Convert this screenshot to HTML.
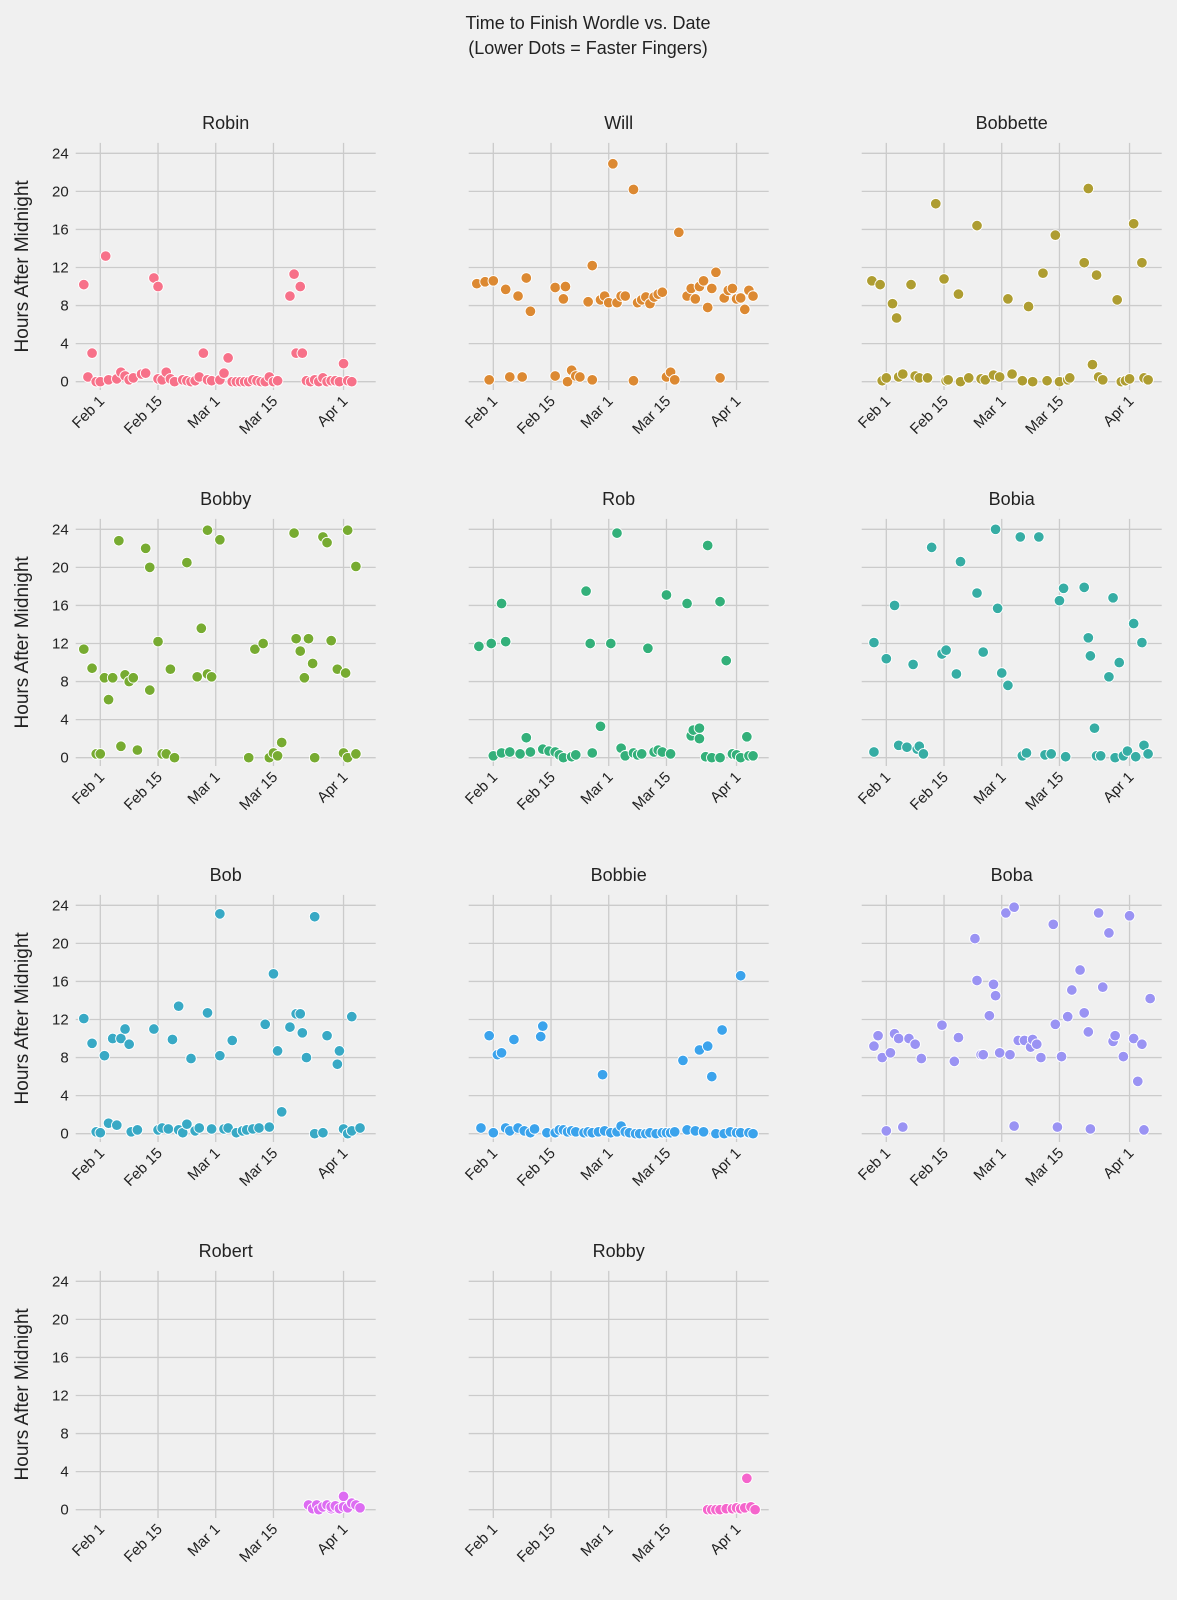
<!DOCTYPE html>
<html><head><meta charset="utf-8">
<style>
body{margin:0;background:#f0f0f0;}
svg{display:block;font-family:"Liberation Sans","DejaVu Sans",sans-serif;}
</style></head>
<body>
<svg id="chart" width="1177" height="1600" viewBox="0 0 1177 1600" xmlns="http://www.w3.org/2000/svg">
<rect width="1177" height="1600" fill="#f0f0f0"/>
<text x="588" y="29" text-anchor="middle" font-size="18" fill="#222">Time to Finish Wordle vs. Date</text>
<text x="588" y="54" text-anchor="middle" font-size="18" fill="#222">(Lower Dots = Faster Fingers)</text>
<g id="panels"></g>
</svg>
<script>
// data: [days after Feb 1, hours after midnight]
const players = ["Robin","Will","Bobbette","Bobby","Rob","Bobia","Bob","Bobbie","Boba","Robert","Robby"];
const colors = ["#f77189","#dc8932","#ae9d31","#77ab31","#33b07a","#36ada4","#38a9c5","#3ba3ec","#9a93f3","#dd6cf2","#f565cc"];
const xTickLabels = ["Feb 1","Feb 15","Mar 1","Mar 15","Apr 1"];
const xTickDays = [0,14,28,42,59];
const yTicks = [0,4,8,12,16,20,24];
const robin = [[-4,10.2],[-3,0.5],[-2,3],[-1,0],[0,0],[1.3,13.2],[2,0.2],[4,0.3],[5,1],[6,0.6],[7,0.2],[8,0.4],[10,0.8],[11,0.9],[13,10.9],[14,10],[14,0.3],[15,0.2],[16,1],[17,0.3],[18,0],[20,0.2],[21,0.1],[22,0],[23,0.1],[24,0.5],[25,3],[26,0.2],[27,0.1],[29,0.2],[30,0.9],[31,2.5],[32,0],[33,0],[34,0],[35,0],[36,0],[37,0.2],[38,0.1],[39,0],[40,0],[41,0.5],[42,0],[43,0.1],[46,9],[47,11.3],[47.5,3],[48.5,10],[49,3],[50,0.1],[51,0],[52,0.2],[53,0],[54,0.4],[55,0],[56,0.1],[57,0.1],[58,0],[59,1.9],[60,0.1],[61,0]];
const will = [[-4,10.3],[-2,10.5],[-1,0.2],[0,10.6],[3,9.7],[4,0.5],[6,9],[7,0.5],[8,10.9],[9,7.4],[15,9.9],[15,0.6],[17,8.7],[17.5,10],[18,0],[19,1.2],[20,0.6],[21,0.5],[23,8.4],[24,12.2],[24,0.2],[26,8.6],[27,9],[28,8.3],[29,22.9],[30,8.3],[31,9],[32,9],[34,20.2],[34,0.1],[35,8.3],[36,8.6],[37,8.9],[38,8.2],[39,8.9],[40,9.2],[41,9.4],[42,0.5],[43,1],[44,0.2],[45,15.7],[47,9],[48,9.8],[49,8.7],[50,10],[51,10.6],[52,7.8],[53,9.8],[54,11.5],[55,0.4],[56,8.8],[57,9.6],[58,9.8],[59,8.7],[60,8.8],[61,7.6],[62,9.6],[63,9]];
const bobbette = [[-3.5,10.6],[-1.5,10.2],[-1,0.1],[0,0.4],[1.5,8.2],[2.5,6.7],[3,0.5],[4,0.8],[6,10.2],[7,0.6],[8,0.4],[10,0.4],[12,18.7],[14,10.8],[14.5,0.1],[15,0.2],[17.5,9.2],[18,0],[20,0.4],[22,16.4],[23,0.3],[24,0.2],[26,0.7],[27.5,0.5],[29.5,8.7],[30.5,0.8],[33,0.1],[34.5,7.9],[35.5,0],[38,11.4],[39,0.1],[41,15.4],[42,0],[44,0.2],[44.5,0.4],[48,12.5],[49,20.3],[50,1.8],[51,11.2],[51.5,0.5],[52.5,0.2],[56,8.6],[57,0],[58,0.1],[59,0.3],[60,16.6],[62,12.5],[62.5,0.4],[63.5,0.2]];
const bobby = [[-4,11.4],[-2,9.4],[-1,0.4],[0,0.4],[1,8.4],[2,6.1],[3,8.4],[4.5,22.8],[5,1.2],[6,8.7],[7,8],[8,8.4],[9,0.8],[11,22],[12,20],[12,7.1],[14,12.2],[15,0.4],[16,0.4],[17,9.3],[18,0],[21,20.5],[23.5,8.5],[24.5,13.6],[26,23.9],[26,8.8],[27,8.5],[29,22.9],[36,0],[37.5,11.4],[39.5,12],[41,0],[42,0.5],[43,0.2],[44,1.6],[47,23.6],[47.5,12.5],[48.5,11.2],[49.5,8.4],[50.5,12.5],[51.5,9.9],[52,0],[54,23.2],[55,22.6],[56,12.3],[57.5,9.3],[59,0.5],[59.5,8.9],[60,0],[60,23.9],[62,20.1],[62,0.4]];
const rob = [[-3.5,11.7],[-0.5,12],[0,0.2],[2,16.2],[2,0.5],[3,12.2],[4,0.6],[6.5,0.4],[8,2.1],[9,0.6],[12,0.9],[13.5,0.7],[15,0.6],[16,0.3],[17,0],[19,0.1],[20,0.3],[22.5,17.5],[23.5,12],[24,0.5],[26,3.3],[28.5,12],[30,23.6],[31,1],[32,0.2],[34,0.5],[35,0.3],[36,0.4],[37.5,11.5],[39,0.6],[40,0.8],[41,0.6],[42,17.1],[43,0.4],[47,16.2],[48,2.3],[48.5,2.9],[50,3.1],[50,2],[51.5,0.1],[52,22.3],[53,0],[55,16.4],[55,0],[56.5,10.2],[58,0.4],[59,0.3],[60,0],[61.5,2.2],[62,0.2],[63,0.2]];
const bobia = [[-3,12.1],[-3,0.6],[0,10.4],[2,16],[3,1.3],[5,1.1],[6.5,9.8],[7.5,0.9],[8,1.2],[9,0.4],[11,22.1],[13.5,10.9],[14.5,11.3],[17,8.8],[18,20.6],[22,17.3],[23.5,11.1],[26.5,24],[27,15.7],[28,8.9],[29.5,7.6],[32.5,23.2],[33,0.2],[34,0.5],[37,23.2],[38.5,0.3],[40,0.4],[42,16.5],[43,17.8],[43.5,0.1],[48,17.9],[49,12.6],[49.5,10.7],[50.5,3.1],[51,0.2],[52,0.2],[54,8.5],[55,16.8],[55.5,0],[56.5,10],[57.5,0.2],[58.5,0.7],[60,14.1],[60.5,0.1],[62,12.1],[62.5,1.3],[63.5,0.4]];
const bob = [[-4,12.1],[-2,9.5],[-1,0.2],[0,0.1],[1,8.2],[2,1.1],[3,10],[4,0.9],[5,10],[6,11],[7,9.4],[7.5,0.2],[9,0.4],[13,11],[14,0.4],[15,0.6],[16.5,0.5],[17.5,9.9],[19,0.4],[19,13.4],[20,0.1],[21,1],[22,7.9],[23,0.3],[24,0.6],[26,12.7],[27,0.5],[29,23.1],[29,8.2],[30,0.5],[31,0.6],[32,9.8],[33,0.1],[34.5,0.3],[35.5,0.4],[37,0.5],[38.5,0.6],[40,11.5],[41,0.7],[42,16.8],[43,8.7],[44,2.3],[46,11.2],[47.5,12.6],[48.5,12.6],[49,10.6],[50,8],[52,22.8],[52,0],[54,0.1],[55,10.3],[57.5,7.3],[58,8.7],[59,0.5],[60,0],[61,0.3],[61,12.3],[63,0.6]];
const bobbie = [[-3,0.6],[-1,10.3],[0,0.1],[1,8.3],[2,8.5],[3,0.6],[4,0.3],[5,9.9],[6,0.6],[7.5,0.3],[9,0.1],[10,0.5],[11.5,10.2],[12,11.3],[13,0.1],[15,0.1],[16,0.4],[17,0.4],[18,0.2],[19,0.3],[20,0.2],[22,0.1],[23,0.2],[24,0.1],[25.5,0.2],[26.5,6.2],[27,0.3],[28.5,0.1],[30,0.2],[31,0.8],[32,0.2],[33,0.1],[34.5,0],[35.5,0],[37,0],[38,0.1],[39.5,0],[41,0.1],[42,0.1],[43,0.1],[44,0.2],[46,7.7],[47,0.4],[49,0.3],[50,8.8],[51,0.2],[52,9.2],[53,6],[54,0],[55.5,10.9],[56,0],[57.5,0.2],[59,0.1],[60,16.6],[60,0.1],[62,0.1],[63,0]];
const boba = [[-3,9.2],[-2,10.3],[-1,8],[0,0.3],[1,8.5],[2,10.5],[3,10],[4,0.7],[5.5,10],[7,9.4],[8.5,7.9],[13.5,11.4],[16.5,7.6],[17.5,10.1],[21.5,20.5],[22,16.1],[23,8.3],[23.5,8.3],[25,12.4],[26,15.7],[26.5,14.5],[27.5,8.5],[29,23.2],[30,8.3],[31,23.8],[31,0.8],[32,9.8],[33.5,9.8],[35,9.1],[35.5,9.9],[36.5,9.4],[37.5,8],[40.5,22],[41,11.5],[41.5,0.7],[42.5,8.1],[44,12.3],[45,15.1],[47,17.2],[48,12.7],[49,10.7],[49.5,0.5],[51.5,23.2],[52.5,15.4],[54,21.1],[55,9.7],[55.5,10.3],[57.5,8.1],[59,22.9],[60,10],[61,5.5],[62,9.4],[62.5,0.4],[64,14.2]];
const robert = [[50.5,0.5],[51.5,0.1],[52.5,0.5],[53,0],[54,0.3],[55,0.5],[56,0.1],[56,0.3],[57,0.4],[58,0.1],[59,1.4],[59,0.3],[60,0.2],[61,0.7],[62,0.5],[63,0.2]];
const robby = [[52,0],[53,0],[54,0],[55,0],[56.5,0.1],[58,0.1],[59,0.2],[60,0.1],[61,0.2],[61.5,3.3],[62.5,0.3],[63.5,0]];
const seriesList = [robin,will,bobbette,bobby,rob,bobia,bob,bobbie,boba,robert,robby];

const NS = "http://www.w3.org/2000/svg";
const PW = 300, COLDX = 393, ROWDY = 376;
const X0 = 75.7, Y0 = 381.7;
const DAYMIN = -5.97, DAYMAX = 66.8, HMIN = -0.87, HMAX = 25.1;
function xs(c, d){ return X0 + c*COLDX + (d - DAYMIN)/(DAYMAX - DAYMIN)*PW; }
function ys(r, h){ return Y0 + r*ROWDY - h*(Y0-153.3)/24; }
function mk(tag, attrs, parent){ const e=document.createElementNS(NS,tag); for(const k in attrs) e.setAttribute(k,attrs[k]); parent.appendChild(e); return e; }
const root = document.getElementById("panels");
players.forEach((name, i) => {
  const c = i % 3, r = Math.floor(i/3);
  const g = mk("g", {}, root);
  
  
  const top = ys(r, HMAX), bot = ys(r, HMIN);
  const left = xs(c, DAYMIN), right = xs(c, DAYMAX);
  yTicks.forEach(t => {
    const l = mk("line", {x1:left, x2:right, y1:ys(r,t), y2:ys(r,t), stroke:"#cbcbcb", "stroke-width":1.3}, g);
    
    
    if (c === 0) {
      const tx = mk("text", {x:left-7, y:ys(r,t)+5, "text-anchor":"end", "font-size":15, fill:"#222"}, g);
      tx.textContent = t;
      
      
    }
  });
  xTickDays.forEach((d, k) => {
    const x = xs(c, d);
    const l = mk("line", {x1:x, x2:x, y1:top, y2:bot, stroke:"#cbcbcb", "stroke-width":1.3}, g);
    
    
    const tx = mk("text", {x:x+5, y:bot+12, "text-anchor":"end", "font-size":15, fill:"#222", transform:`rotate(-45 ${x+5} ${bot+12})`}, g);
    tx.textContent = xTickLabels[k];
    
    
  });
  const title = mk("text", {x:(left+right)/2, y:top-14, "text-anchor":"middle", "font-size":18, fill:"#222"}, g);
  title.textContent = name;
  
  
  if (c === 0) {
    const cy = (top+bot)/2;
    const yl = mk("text", {x:28, y:cy, "text-anchor":"middle", "font-size":19, fill:"#222", transform:`rotate(-90 28 ${cy})`}, g);
    yl.textContent = "Hours After Midnight";
    
    
  }
  seriesList[i].forEach(p => {
    const dot = mk("circle", {cx:xs(c,p[0]), cy:ys(r,p[1]), r:5.3, fill:colors[i], stroke:"#fff", "stroke-width":0.9}, g);
    
    
  });
});
</script>
</body></html>
